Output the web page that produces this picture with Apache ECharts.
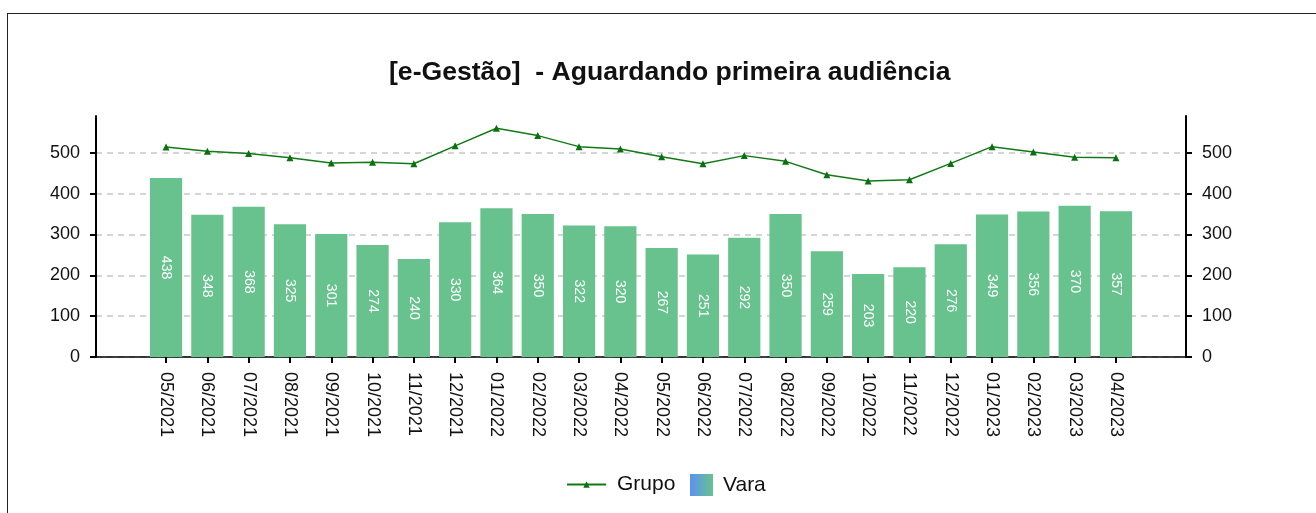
<!DOCTYPE html>
<html>
<head>
<meta charset="utf-8">
<title>Aguardando primeira audiência</title>
<script src="https://cdn.jsdelivr.net/npm/echarts@6/dist/echarts.min.js"></script>
<style>
  html, body { margin: 0; padding: 0; background: #fff; }
  .frame {
    position: absolute; left: 7px; top: 13px; width: 1400px; height: 600px;
    border-left: 1px solid #222; border-top: 1px solid #222;
  }
  #chart { position: absolute; left: 0; top: 0; width: 1316px; height: 513px; }
</style>
</head>
<body>
<div class="frame"></div>
<div id="chart"></div>
<script>
// months shown on the axis
const months = ['05/2021', '06/2021', '07/2021', '08/2021', '09/2021', '10/2021', '11/2021', '12/2021',
  '01/2022', '02/2022', '03/2022', '04/2022', '05/2022', '06/2022', '07/2022', '08/2022',
  '09/2022', '10/2022', '11/2022', '12/2022', '01/2023', '02/2023', '03/2023', '04/2023']

// Vara (bars)
const vara = [438, 348, 368, 325, 301, 274, 240, 330, 364, 350, 322, 320,
  267, 251, 292, 350, 259, 203, 220, 276, 349, 356, 370, 357]

// Grupo (line)
const grupo = [514, 504, 498, 488, 475, 477, 473, 517, 560, 542, 515, 509,
  490, 473, 493, 479, 446, 431, 434, 474, 515, 502, 489, 488]

const yTicks = [0, 100, 200, 300, 400, 500]
const yMax = 590

const font = 'Arial, "Liberation Sans", sans-serif'

const myChart = echarts.init(document.getElementById('chart'))

// the outer grid only carries the axis lines / split lines,
// the inner one holds the bars (categories are narrower than the frame)
const outerAxis = (position) => ({
  type: 'value',
  gridIndex: 0,
  position: position,
  min: 0,
  max: yMax,
  interval: 100,
  axisLine: { show: true, lineStyle: { color: '#000', width: 2 } },
  axisTick: { show: true, length: 6, lineStyle: { color: '#000', width: 2 } },
  axisLabel: {
    color: '#111',
    fontSize: 18,
    fontFamily: font,
    margin: 16,
    showMaxLabel: false,
    formatter: v => yTicks.indexOf(v) >= 0 ? String(v) : ''
  },
  splitLine: {
    show: position === 'left',
    showMaxLine: false,
    lineStyle: { type: [6, 5], color: '#c8c8c8', width: 1.5 }
  }
})

const option = {
  animation: false,
  title: {
    text: '[e-Gestão]  - Aguardando primeira audiência',
    left: 384,
    top: 54,
    textStyle: { fontSize: 26.6, fontWeight: 'bold', color: '#111', fontFamily: font }
  },
  legend: [
    {
      data: ['Grupo'],
      left: 561,
      top: 469,
      itemWidth: 39,
      itemHeight: 8,
      textStyle: { fontSize: 21, color: '#111', fontFamily: font, padding: [0, 0, 0, 6] }
    },
    {
      data: [{
        name: 'Vara',
        icon: 'rect',
        itemStyle: {
          color: new echarts.graphic.LinearGradient(0, 0, 1, 0, [
            { offset: 0, color: '#5b92f2' },
            { offset: 1, color: '#67c28e' }
          ])
        }
      }],
      left: 685,
      top: 469,
      itemWidth: 23,
      itemHeight: 22,
      textStyle: { fontSize: 21, color: '#111', fontFamily: font, padding: [0, 0, 0, 5] }
    }
  ],
  grid: [
    { left: 96, right: 130, top: 116, height: 241 },
    { left: 145.4, right: 179.4, top: 116, height: 241 }
  ],
  xAxis: [
    {
      type: 'category',
      gridIndex: 0,
      data: [''],
      axisLine: { show: true, lineStyle: { color: '#000', width: 1.5 } },
      axisTick: { show: false },
      axisLabel: { show: false }
    },
    {
      type: 'category',
      gridIndex: 1,
      data: months,
      axisLine: { show: false },
      axisTick: { show: true, alignWithLabel: true, length: 6, lineStyle: { color: '#000', width: 2 } },
      axisLabel: {
        rotate: -90,
        interval: 0,
        color: '#111',
        fontSize: 18,
        fontFamily: font,
        margin: 15
      }
    }
  ],
  yAxis: [
    outerAxis('left'),
    outerAxis('right'),
    { type: 'value', gridIndex: 1, min: 0, max: yMax, show: false, splitLine: { show: false } }
  ],
  series: [
    {
      name: 'Vara',
      type: 'bar',
      xAxisIndex: 1,
      yAxisIndex: 2,
      data: vara,
      barCategoryGap: '22%',
      itemStyle: { color: '#67c28e' },
      label: {
        show: true,
        position: 'inside',
        rotate: -90,
        color: '#fff',
        fontSize: 14,
        fontFamily: font
      }
    },
    {
      name: 'Grupo',
      type: 'line',
      xAxisIndex: 1,
      yAxisIndex: 2,
      data: grupo,
      symbol: 'triangle',
      symbolSize: 7,
      itemStyle: { color: '#0b7010' },
      lineStyle: { color: '#117a16', width: 1.5 },
      z: 3
    }
  ]
}

myChart.setOption(option)
window.addEventListener('resize', () => myChart.resize())
</script>
</body>
</html>
